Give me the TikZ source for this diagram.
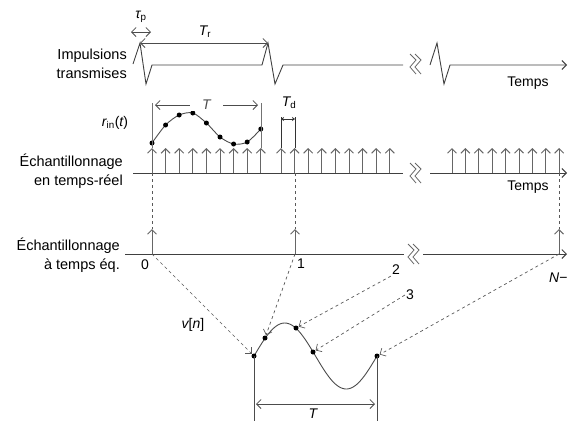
\documentclass[tikz,border=0pt]{standalone}
\usepackage{fontspec}
\setmainfont{Liberation Sans}
\usetikzlibrary{arrows.meta}
\usetikzlibrary{calc}
\colorlet{axisline}{black!75}
\colorlet{samplearrow}{black!60}
\colorlet{guideline}{black!65}

\tikzset{
  axis/.style={axisline, line width=0.9pt},
  sample/.style={samplearrow, line width=1pt, ->},
  guide/.style={guideline, dashed, line width=0.7pt},
  curve/.style={black!70, line width=0.9pt},
  dim/.style={black!70, line width=0.8pt, <->},
  lbl/.style={font=\fontsize{14.5}{19}\selectfont, align=right, anchor=east, inner sep=1pt},
  txt/.style={font=\fontsize{14}{17}\selectfont, inner sep=1pt},
  gap/.pic={
    \foreach \dx in {0,5}
    {
      \draw[black!60, line width=0.8pt] (\dx,-10) -- (\dx+6,-4) -- (\dx,3) -- (\dx+6,10);
    }
  }
}

\begin{document}
\begin{tikzpicture}[x=1pt, y=-1pt, >={Straight Barb[length=4.5pt,width=9pt]}]
        \useasboundingbox (0,0) rectangle (568,421);
        % transmitted pulses
        \coordinate (p0) at (140,43);
        \coordinate (p1) at (268,43);
        \draw[axis] (133,64) -- (p0) -- (146,84) -- (152,65) -- (262,65) -- (p1) -- (275,84) -- (283,65) -- (403,65);
        \draw[axis, ->] (430,65) -- (437,43) -- (444,84) -- (450,65) -- (567,65);
        \pic at (410,64) {gap};
        \draw[dim] (p0) -- (p1);
        \node[txt] (tr) at (205,32) {\itshape T\textsubscript{\upshape r}};
        \coordinate (tp0) at (131,32);
        \coordinate (tp1) at (151,32);
        \draw[dim] (tp0) -- (tp1);
        \node[txt] (tp) at (141,17) {\itshape τ\textsubscript{\upshape p}};
        \node[lbl] (imp) at (128,64) {Impulsions\\transmises};
        \node[txt] (temps1) at (528,83) {Temps};
        % ~~~~~~~~~~~~~~~~~
        % real-time sampling
        \draw[axis] (133,173) -- (403,173);
        \draw[axis, ->] (430,173) -- (567,173);
        \pic at (410,173) {gap};
        \foreach \i in {0,...,8}
        {
            \draw[sample] ({152+13.6*\i},173) -- ++(0,-25);
            \draw[sample] ({281+13.6*\i},173) -- ++(0,-25);
            \draw[sample] ({452+13.4*\i},173) -- ++(0,-25);
        }
        \foreach \y [count=\i from 0] in {143,125,115,113,123,137,144,142,129}
        {
            \coordinate (r\i) at ({152+13.6*\i},\y);
        }
        \draw[curve] plot[smooth] coordinates {(r0) (r1) (r2) (r3) (r4) (r5) (r6) (r7) (r8)};
        \foreach \i in {0,...,8}
        {
            \fill (r\i) circle (2.5pt);
        }
        \draw[black!55, line width=0.8pt] (152,148) -- (152,103);
        \draw[black!55, line width=0.8pt] (261,148) -- (261,103);
        \draw[dim] (155,105) -- (258,105) node[midway, txt, fill=white, inner xsep=12pt] (tper) {\itshape T};
        \draw[black!80, line width=0.8pt] (281,148) -- (281,117);
        \draw[black!80, line width=0.8pt] (295,148) -- (295,117);
        \draw[black!80, line width=0.8pt, {Stealth[length=3pt,width=4pt]}-{Stealth[length=3pt,width=4pt]}] (281,119) -- (295,119);
        \node[txt] (td) at (289,103) {\itshape T\textsubscript{\upshape d}};
        \node[txt] (rin) at (115,123) {\itshape r\textsubscript{\upshape in}\upshape(\itshape t\upshape)};
        \node[lbl] (ech1) at (124,171) {Échantillonnage\\en temps-réel};
        \node[txt] (temps2) at (528,187) {Temps};
        % ~~~~~~~~~~~~~~~~~
        % equivalent-time sampling
        \coordinate (e0) at (152,254);
        \coordinate (e1) at (295,254);
        \coordinate (eN) at (559,254);
        \draw[axis] (125,254) -- (404,254);
        \draw[axis, ->] (423,254) -- (567,254);
        \pic at (408,254) {gap};
        \foreach \e in {e0,e1,eN}
        {
            \draw[guide] (\e |- 0,173) -- ($(\e)+(0,-25)$);
            \draw[sample] (\e) -- ++(0,-25);
        }
        \node[lbl] (ech2) at (121,255) {Échantillonnage\\à temps éq.};
        \node[txt] (n0) at (145,265) {0};
        \node[txt] (n1) at (301,264) {1};
        \node[txt] (n2) at (396,270) {2};
        \node[txt] (n3) at (410,295) {3};
        \node[txt, anchor=west] (nN) at (548,278) {\itshape N\upshape −};
        % ~~~~~~~~~~~~~~~~~
        % v[n]
        \coordinate (v0) at (254,356);
        \coordinate (v1) at (265,338);
        \coordinate (v2) at (296,328);
        \coordinate (v3) at (313,352);
        \coordinate (v4) at (377,356);
        \draw[curve] plot[domain=0:123, samples=80] ({254+\x},{356-33*sin(\x/123*360)});
        \foreach \v in {v0,v1,v2,v3,v4}
        {
            \fill (\v) circle (2.5pt);
        }
        \draw[black!70, line width=0.8pt] (v0) -- (254,421);
        \draw[black!70, line width=0.8pt] (v4) -- (377,421);
        \draw[dim] (256,404) -- (375,404);
        \node[txt] (tv) at (313,414) {\itshape T};
        \node[txt] (vn) at (193,325) {\itshape v\upshape[\itshape n\upshape]};
        \draw[guide, ->, shorten >=3pt] (e0) -- (v0);
        \draw[guide, ->, shorten >=3pt] (e1) -- (v1);
        \draw[guide, ->, shorten >=3pt] (n2.south west) -- (v2);
        \draw[guide, ->, shorten >=3pt] (n3.west) -- (v3);
        \draw[guide, ->, shorten >=3pt] (eN) -- (v4);
\end{tikzpicture}
\end{document}
